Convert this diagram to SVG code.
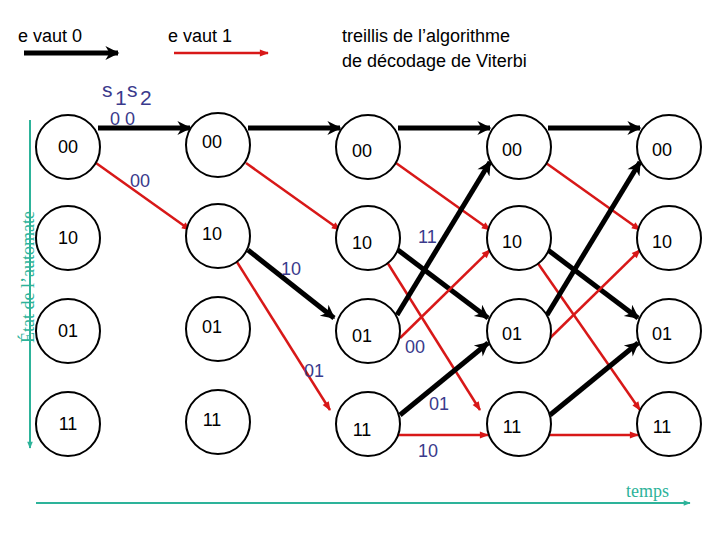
<svg xmlns="http://www.w3.org/2000/svg" width="720" height="540" viewBox="0 0 720 540">
<style>
text{font-family:"Liberation Sans",Arial,sans-serif;font-size:18px;fill:#000}
.n circle{fill:#fff;stroke:#000;stroke-width:2}
.n text{text-anchor:middle}
.b{stroke:#000;stroke-width:5;fill:none;marker-end:url(#ab)}
.r{stroke:#d81818;stroke-width:2.5;fill:none;marker-end:url(#ar)}
.l{fill:#3a3a8c}
.ax{stroke:#2db39a;stroke-width:2;fill:none}
</style>
<defs>
<marker id="ab" viewBox="0 0 10 10" refX="9" refY="5" markerWidth="24" markerHeight="14" markerUnits="userSpaceOnUse" orient="auto"><path d="M0,0 L10,5 L0,10 L3,5z" fill="#000"/></marker>
<marker id="ar" viewBox="0 0 10 10" refX="9" refY="5" markerWidth="13" markerHeight="9" markerUnits="userSpaceOnUse" orient="auto"><path d="M0,1 L10,5 L0,9z" fill="#d81818"/></marker>
<marker id="at" viewBox="0 0 10 10" refX="9" refY="5" markerWidth="8" markerHeight="7" markerUnits="userSpaceOnUse" orient="auto"><path d="M0,1 L10,5 L0,9z" fill="#2db39a"/></marker>
</defs>
<text x="18" y="42">e vaut 0</text>
<text x="168" y="42">e vaut 1</text>
<text x="342" y="42">treillis de l’algorithme</text>
<text x="342" y="67">de décodage de Viterbi</text>
<g id="legend">
<line x1="24" y1="53" x2="118" y2="53" class="b"/>
<line x1="174" y1="53" x2="268" y2="53" class="r"/>
</g>
<g id="axes">
<line x1="30" y1="120" x2="30" y2="448" class="ax" style="marker-end:url(#at)"/>
<line x1="36" y1="503" x2="690" y2="503" class="ax" style="marker-end:url(#at)"/>
<text transform="translate(34,277) rotate(-90)" text-anchor="middle" style="font-family:'Liberation Serif',serif;font-size:18px;fill:#2db39a">État de l’automate</text>
<text x="626" y="497" style="font-family:'Liberation Serif',serif;font-size:18px;fill:#2db39a">temps</text>
</g>
<g id="connectors">
<line x1="98" y1="128" x2="190" y2="128" class="b"/>
<line x1="248" y1="128" x2="340" y2="128" class="b"/>
<line x1="398" y1="128" x2="490" y2="128" class="b"/>
<line x1="548" y1="128" x2="640" y2="128" class="b"/>
<line x1="96" y1="163" x2="190" y2="230" class="r"/>
<line x1="246" y1="163" x2="340" y2="230" class="r"/>
<line x1="396" y1="163" x2="490" y2="230" class="r"/>
<line x1="546" y1="163" x2="640" y2="230" class="r"/>
<line x1="248" y1="250" x2="334" y2="318" class="b"/>
<line x1="398" y1="250" x2="488" y2="318" class="b"/>
<line x1="548" y1="250" x2="638" y2="318" class="b"/>
<line x1="237" y1="262" x2="330" y2="410" class="r"/>
<line x1="387" y1="262" x2="480" y2="410" class="r"/>
<line x1="537" y1="262" x2="640" y2="410" class="r"/>
<line x1="397" y1="315" x2="490" y2="162" class="b"/>
<line x1="547" y1="315" x2="640" y2="162" class="b"/>
<line x1="400" y1="338" x2="490" y2="250" class="r"/>
<line x1="550" y1="338" x2="640" y2="250" class="r"/>
<line x1="400" y1="415" x2="488" y2="343" class="b"/>
<line x1="550" y1="415" x2="638" y2="343" class="b"/>
<line x1="398" y1="435" x2="488" y2="435" class="r"/>
<line x1="548" y1="435" x2="638" y2="435" class="r"/>
</g>
<g id="labels">
<text x="102" y="97" class="l" style="font-size:21px">s</text><text x="115" y="105" class="l" style="font-size:21px">1</text><text x="127" y="97" class="l" style="font-size:21px">s</text><text x="140" y="105" class="l" style="font-size:21px">2</text>
<text x="110" y="125" class="l">0  0</text>
<text x="130" y="187" class="l">00</text>
<text x="281" y="275" class="l">10</text>
<text x="304" y="377" class="l">01</text>
<text x="418" y="243" class="l">11</text>
<text x="405" y="353" class="l">00</text>
<text x="429" y="410" class="l">01</text>
<text x="418" y="457" class="l">10</text>
</g>
<g id="c1" class="n">
<g id="n1_00"><circle cx="68" cy="147" r="32"/><text x="68" y="153">00</text></g>
<g id="n1_10"><circle cx="68" cy="238" r="32"/><text x="68" y="244">10</text></g>
<g id="n1_01"><circle cx="68" cy="331" r="32"/><text x="68" y="337">01</text></g>
<g id="n1_11"><circle cx="68" cy="424" r="32"/><text x="68" y="430">11</text></g>
</g>
<g id="c2" class="n">
<g id="n2_00"><circle cx="218" cy="145" r="32"/><text x="212" y="148">00</text></g>
<g id="n2_10"><circle cx="218" cy="236" r="32"/><text x="212" y="240">10</text></g>
<g id="n2_01"><circle cx="218" cy="329" r="32"/><text x="212" y="333">01</text></g>
<g id="n2_11"><circle cx="218" cy="422" r="32"/><text x="212" y="426">11</text></g>
</g>
<g id="c3" class="n">
<g id="n3_00"><circle cx="368" cy="147" r="32"/><text x="362" y="157">00</text></g>
<g id="n3_10"><circle cx="368" cy="238" r="32"/><text x="362" y="249">10</text></g>
<g id="n3_01"><circle cx="368" cy="331" r="32"/><text x="362" y="342">01</text></g>
<g id="n3_11"><circle cx="368" cy="424" r="32"/><text x="362" y="436">11</text></g>
</g>
<g id="c4" class="n">
<g id="n4_00"><circle cx="519" cy="147" r="32"/><text x="512" y="156">00</text></g>
<g id="n4_10"><circle cx="519" cy="238" r="32"/><text x="512" y="248">10</text></g>
<g id="n4_01"><circle cx="519" cy="331" r="32"/><text x="512" y="340">01</text></g>
<g id="n4_11"><circle cx="519" cy="424" r="32"/><text x="512" y="433">11</text></g>
</g>
<g id="c5" class="n">
<g id="n5_00"><circle cx="669" cy="147" r="32"/><text x="662" y="156">00</text></g>
<g id="n5_10"><circle cx="669" cy="238" r="32"/><text x="662" y="248">10</text></g>
<g id="n5_01"><circle cx="669" cy="331" r="32"/><text x="662" y="340">01</text></g>
<g id="n5_11"><circle cx="669" cy="424" r="32"/><text x="662" y="433">11</text></g>
</g>
</svg>
